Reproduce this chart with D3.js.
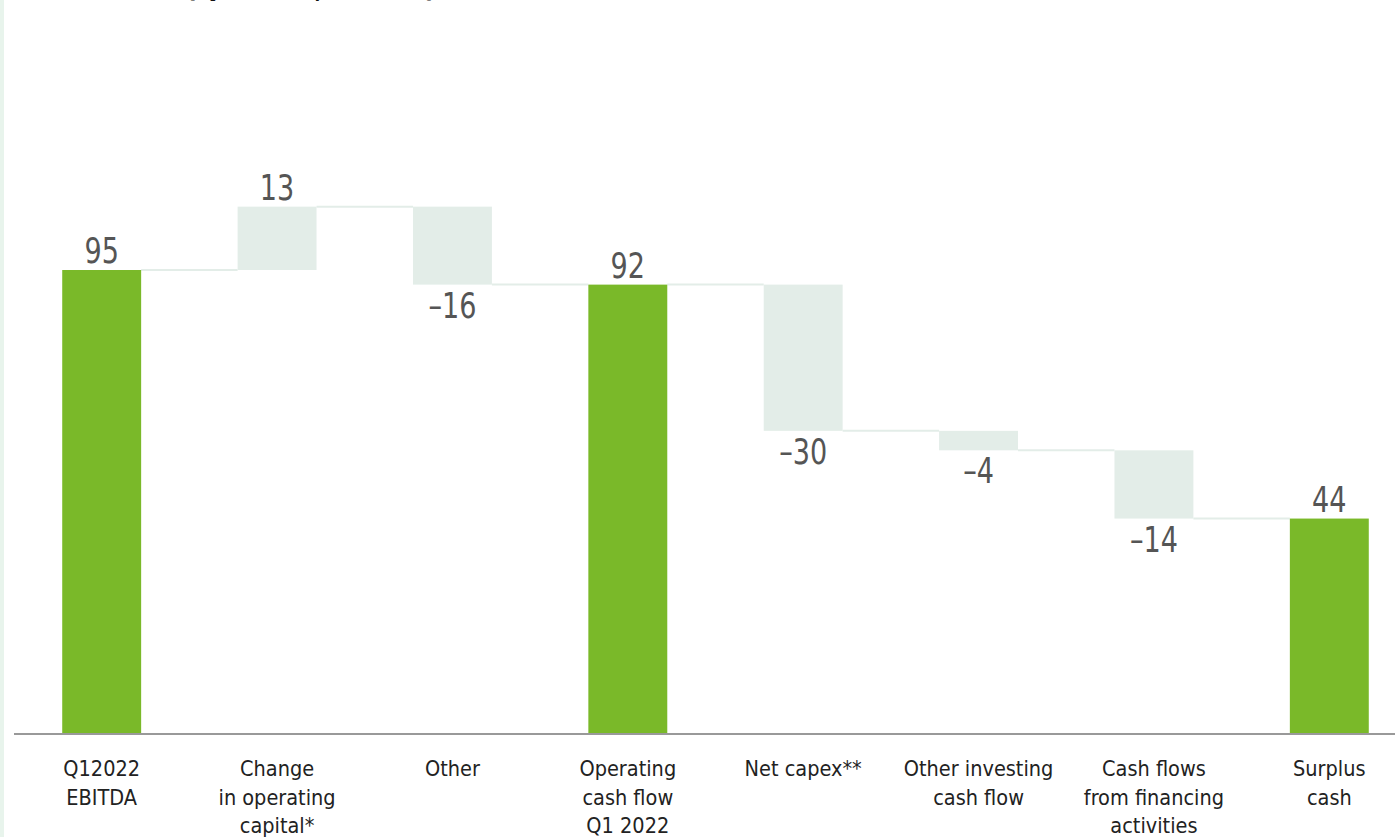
<!DOCTYPE html>
<html>
<head>
<meta charset="utf-8">
<script src="https://cdn.jsdelivr.net/npm/d3@7"></script>
<style>
  body { margin: 0; background: #fff; }
  svg { display: block; }
  .value-label { font-family: "DejaVu Sans Condensed", "DejaVu Sans", sans-serif; font-stretch: condensed; font-size: 35px; fill: #555; }
  .cat-label { font-family: "DejaVu Sans Condensed", "DejaVu Sans", sans-serif; font-stretch: condensed; font-size: 21.5px; fill: #222; }
  .title { font-family: "DejaVu Sans Condensed", "DejaVu Sans", sans-serif; font-weight: bold; font-size: 28px; fill: #111; }
</style>
</head>
<body>
<svg width="1395" height="837"></svg>
<script>
// chart data
var categories = [
    ['Q12022', 'EBITDA'],
    ['Change', 'in operating', 'capital*'],
    ['Other'],
    ['Operating', 'cash flow', 'Q1 2022'],
    ['Net capex**'],
    ['Other investing', 'cash flow'],
    ['Cash flows', 'from financing', 'activities'],
    ['Surplus', 'cash']
];
var values = [95, 13, -16, 92, -30, -4, -14, 44];
var barTypes = ['total', 'delta', 'delta', 'total', 'delta', 'delta', 'delta', 'total'];

var svg = d3.select('svg');
var svgWidth = +svg.attr('width');
var svgHeight = +svg.attr('height');

var colors = {total: '#7ab929', delta: '#e3ede8', connector: '#e3ede8', axis: '#999'};

// light strip on the left edge
svg.append('rect')
    .attr('x', 0).attr('y', 0)
    .attr('width', 4).attr('height', svgHeight)
    .attr('fill', '#e8f4ec');

// title, mostly above the visible area (only descenders peek in)
svg.append('text')
    .attr('class', 'title')
    .attr('x', 40)
    .attr('y', -3)
    .text('Cash flow (Q1 2022, EUR m)');

// build start / end levels for the waterfall
var level = 0;
var bars = values.map(function(v, i) {
    var d = {i: i, value: v, type: barTypes[i], lines: categories[i]};
    if (d.type === 'total') {
        d.start = 0;
        d.end = v;
        level = v;
    } else {
        d.start = level;
        d.end = level + v;
        level = d.end;
    }
    return d;
});

var xScale = d3.scaleBand()
    .domain(d3.range(values.length))
    .range([14, 1417])
    .paddingInner(0.55)
    .paddingOuter(0.275);

var yScale = d3.scaleLinear()
    .domain([0, 95])
    .range([733, 270]);

var chartG = svg.append('g');

// connectors between bars
chartG.selectAll('.connector')
    .data(bars.slice(0, -1))
    .enter()
    .append('line')
    .attr('class', 'connector')
    .attr('x1', function(d) { return xScale(d.i) + xScale.bandwidth(); })
    .attr('x2', function(d) { return xScale(d.i + 1); })
    .attr('y1', function(d) { return yScale(d.end); })
    .attr('y2', function(d) { return yScale(d.end); })
    .style('stroke', colors.connector)
    .style('stroke-width', 2);

// bars
chartG.selectAll('.bar')
    .data(bars)
    .enter()
    .append('rect')
    .attr('class', 'bar')
    .attr('x', function(d) { return xScale(d.i); })
    .attr('width', xScale.bandwidth())
    .attr('y', function(d) { return yScale(Math.max(d.start, d.end)); })
    .attr('height', function(d) { return Math.abs(yScale(d.start) - yScale(d.end)); })
    .style('fill', function(d) { return colors[d.type]; });

// value labels (squeezed horizontally to mimic the condensed face)
chartG.selectAll('.value-label')
    .data(bars)
    .enter()
    .append('text')
    .attr('class', 'value-label')
    .attr('text-anchor', 'middle')
    .attr('transform', function(d) {
        var x = xScale(d.i) + xScale.bandwidth() / 2;
        var y = d.value >= 0 ? yScale(Math.max(d.start, d.end)) - 7
                             : yScale(Math.min(d.start, d.end)) + 33;
        return 'translate(' + [x, y] + ') scale(0.86,1)';
    })
    .text(function(d) { return d.value < 0 ? '\u2013' + Math.abs(d.value) : d.value; });

// baseline axis
svg.append('line')
    .attr('x1', 14).attr('x2', svgWidth)
    .attr('y1', yScale(0) + 1).attr('y2', yScale(0) + 1)
    .style('stroke', colors.axis)
    .style('stroke-width', 2);

// category labels
var catG = chartG.selectAll('.cat-label')
    .data(bars)
    .enter()
    .append('text')
    .attr('class', 'cat-label')
    .attr('text-anchor', 'middle')
    .attr('x', function(d) { return xScale(d.i) + xScale.bandwidth() / 2; })
    .attr('y', 776);

catG.selectAll('tspan')
    .data(function(d) {
        return d.lines.map(function(l) { return {text: l, x: xScale(d.i) + xScale.bandwidth() / 2}; });
    })
    .enter()
    .append('tspan')
    .attr('x', function(d) { return d.x; })
    .attr('dy', function(d, j) { return j === 0 ? 0 : 28.5; })
    .text(function(d) { return d.text; });
</script>
</body>
</html>
